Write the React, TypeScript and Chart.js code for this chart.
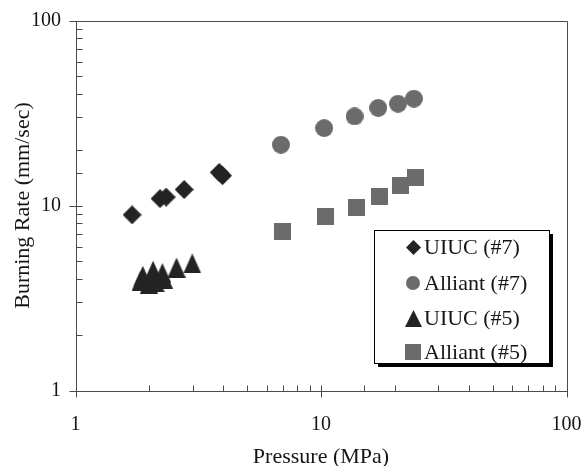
import React, { useEffect, useRef } from 'react';
import { Chart, registerables } from 'chart.js';

Chart.register(...registerables);

// Burning rate vs. pressure, four propellant series (log–log)
const uiuc7Pressure = [1.7, 2.21, 2.34, 2.77, 3.85, 3.97];
const uiuc7Rate = [8.9, 10.9, 11.1, 12.2, 15.1, 14.5];

const alliant7Pressure = [6.87, 10.3, 13.7, 17.1, 20.6, 23.9];
const alliant7Rate = [21.3, 26.2, 30.3, 33.7, 35.5, 37.8];

const uiuc5Pressure = [1.84, 1.88, 1.99, 2.07, 2.12, 2.26, 2.29, 2.58, 2.99];
const uiuc5Rate = [3.92, 4.17, 3.78, 4.44, 3.85, 4.31, 4.03, 4.62, 4.86];

const alliant5Pressure = [6.98, 10.4, 14.0, 17.3, 21.0, 24.3];
const alliant5Rate = [7.26, 8.72, 9.79, 11.2, 12.8, 14.1];

const seriesLabels = ['UIUC (#7)', 'Alliant (#7)', 'UIUC (#5)', 'Alliant (#5)'];
const axisTicks = [1, 10, 100];

const DARK = '#232323';
const GRAY = '#6b6b6b';
const FRAME = '#4a4a4a';
const TEXT = '#151515';
const FONT = '"Liberation Serif", "Times New Roman", serif';

type Shape = 'diamond' | 'circle' | 'triangle' | 'square';

function marker(shape: Shape, w: number, h: number, color: string): HTMLCanvasElement {
  const c = document.createElement('canvas');
  c.width = w;
  c.height = h;
  const g = c.getContext('2d')!;
  g.fillStyle = color;
  g.beginPath();
  if (shape === 'diamond') {
    g.moveTo(w / 2, 0);
    g.lineTo(w, h / 2);
    g.lineTo(w / 2, h);
    g.lineTo(0, h / 2);
  } else if (shape === 'circle') {
    g.arc(w / 2, h / 2, w / 2, 0, Math.PI * 2);
  } else if (shape === 'triangle') {
    g.moveTo(w / 2, 0);
    g.lineTo(w, h);
    g.lineTo(0, h);
  } else {
    g.rect(0, 0, w, h);
  }
  g.closePath();
  g.fill();
  return c;
}

const isDecade = (v: number) => Math.abs(Math.log10(v) - Math.round(Math.log10(v))) < 1e-9;

// Frame around the plot, with log ticks: decades cross the axis, minors point inward
const framePlugin = {
  id: 'frame',
  beforeDatasetsDraw(chart: any) {
    const { ctx, chartArea: a, scales } = chart;
    const xs = scales.x;
    const ys = scales.y;
    const L = Math.round(a.left) + 0.5;
    const R = Math.round(a.right) + 0.5;
    const T = Math.round(a.top) + 0.5;
    const B = Math.round(a.bottom) + 0.5;
    ctx.save();
    ctx.strokeStyle = FRAME;
    ctx.lineWidth = 1;
    ctx.beginPath();
    ctx.moveTo(L, T);
    ctx.lineTo(R, T);
    ctx.lineTo(R, B);
    ctx.lineTo(L, B);
    ctx.closePath();
    ctx.stroke();
    ctx.beginPath();
    xs.ticks.forEach((t: any) => {
      const px = Math.round(xs.getPixelForValue(t.value)) + 0.5;
      if (isDecade(t.value)) {
        ctx.moveTo(px, B - 6);
        ctx.lineTo(px, B + 6);
      } else {
        ctx.moveTo(px, B);
        ctx.lineTo(px, B - 6);
      }
    });
    ys.ticks.forEach((t: any) => {
      const py = Math.round(ys.getPixelForValue(t.value)) + 0.5;
      if (isDecade(t.value)) {
        ctx.moveTo(L - 7, py);
        ctx.lineTo(L + 6, py);
      } else {
        ctx.moveTo(L, py);
        ctx.lineTo(L + 6, py);
      }
    });
    ctx.stroke();
    ctx.restore();
  },
};

// Boxed legend with a drop shadow inside the plot area
const legendPlugin = {
  id: 'boxLegend',
  afterDraw(chart: any) {
    const { ctx } = chart;
    const box = { l: 374, t: 230, r: 549, b: 363 };
    const rows = [247, 283, 318, 352];
    const markerX = 413;
    const textX = 424;
    ctx.save();
    ctx.fillStyle = '#000';
    ctx.fillRect(box.l + 4, box.t + 4, box.r - box.l, box.b - box.t);
    ctx.fillStyle = '#fff';
    ctx.fillRect(box.l, box.t, box.r - box.l, box.b - box.t);
    ctx.strokeStyle = '#000';
    ctx.lineWidth = 1;
    ctx.strokeRect(box.l + 0.5, box.t + 0.5, box.r - box.l, box.b - box.t);
    ctx.font = `22px ${FONT}`;
    ctx.fillStyle = TEXT;
    ctx.textBaseline = 'middle';
    ctx.textAlign = 'left';
    chart.data.datasets.forEach((ds: any, i: number) => {
      const m: HTMLCanvasElement = ds.legendMarker;
      const y = rows[i];
      ctx.drawImage(m, Math.round(markerX - m.width / 2), Math.round(y - m.height / 2));
      ctx.fillText(ds.label, textX, y + 1);
    });
    ctx.restore();
  },
};

export default function App() {
  const ref = useRef<HTMLCanvasElement | null>(null);

  useEffect(() => {
    document.body.style.margin = '0';
    const canvas = ref.current;
    if (!canvas) return;

    const toPoints = (xs: number[], ys: number[]) => xs.map((x, i) => ({ x, y: ys[i] }));

    const datasets: any[] = [
      {
        label: seriesLabels[0],
        data: toPoints(uiuc7Pressure, uiuc7Rate),
        pointStyle: marker('diamond', 19, 19, DARK),
        legendMarker: marker('diamond', 15, 15, DARK),
      },
      {
        label: seriesLabels[1],
        data: toPoints(alliant7Pressure, alliant7Rate),
        pointStyle: marker('circle', 18, 18, GRAY),
        legendMarker: marker('circle', 14, 14, GRAY),
      },
      {
        label: seriesLabels[2],
        data: toPoints(uiuc5Pressure, uiuc5Rate),
        pointStyle: marker('triangle', 18, 20, DARK),
        legendMarker: marker('triangle', 17, 17, DARK),
      },
      {
        label: seriesLabels[3],
        data: toPoints(alliant5Pressure, alliant5Rate),
        pointStyle: marker('square', 17, 17, GRAY),
        legendMarker: marker('square', 16, 16, GRAY),
      },
    ].map((d) => ({ ...d, showLine: false, pointRadius: 9, pointHoverRadius: 9, clip: false }));

    const tickLabel = (v: any) => (axisTicks.includes(Number(v)) ? String(v) : '');

    const chart = new Chart(canvas, {
      type: 'scatter',
      data: { datasets },
      options: {
        animation: false,
        responsive: false,
        events: [],
        layout: { padding: { left: 0, top: 20.5, right: 16.5, bottom: 0 } },
        plugins: { legend: { display: false }, tooltip: { enabled: false } },
        scales: {
          x: {
            type: 'logarithmic',
            min: 1,
            max: 100,
            grid: { display: false, drawTicks: false },
            border: { display: false },
            ticks: {
              autoSkip: false,
              maxRotation: 0,
              padding: 22,
              color: TEXT,
              font: { family: FONT, size: 20 },
              callback: tickLabel,
            },
            title: {
              display: true,
              text: 'Pressure (MPa)',
              color: TEXT,
              font: { family: FONT, size: 22, lineHeight: 0.8 },
              padding: 0,
            },
            afterFit(scale: any) {
              scale.height = 75.5;
              scale.paddingLeft = 0;
              scale.paddingRight = 0;
            },
          },
          y: {
            type: 'logarithmic',
            min: 1,
            max: 100,
            grid: { display: false, drawTicks: false },
            border: { display: false },
            ticks: {
              autoSkip: false,
              padding: 14.5,
              color: TEXT,
              font: { family: FONT, size: 20 },
              callback: tickLabel,
            },
            title: {
              display: true,
              text: 'Burning Rate (mm/sec)',
              color: TEXT,
              font: { family: FONT, size: 22, lineHeight: 1 },
              padding: { top: 12, bottom: 0 },
            },
            afterFit(scale: any) {
              scale.width = 75.5;
              scale.paddingTop = 0;
              scale.paddingBottom = 0;
            },
          },
        },
      } as any,
      plugins: [framePlugin, legendPlugin],
    });

    return () => chart.destroy();
  }, []);

  return (
    <div style={{ position: 'absolute', left: 0, top: 0, width: 583, height: 466, background: '#fff' }}>
      <canvas ref={ref} width={583} height={466} />
    </div>
  );
}
